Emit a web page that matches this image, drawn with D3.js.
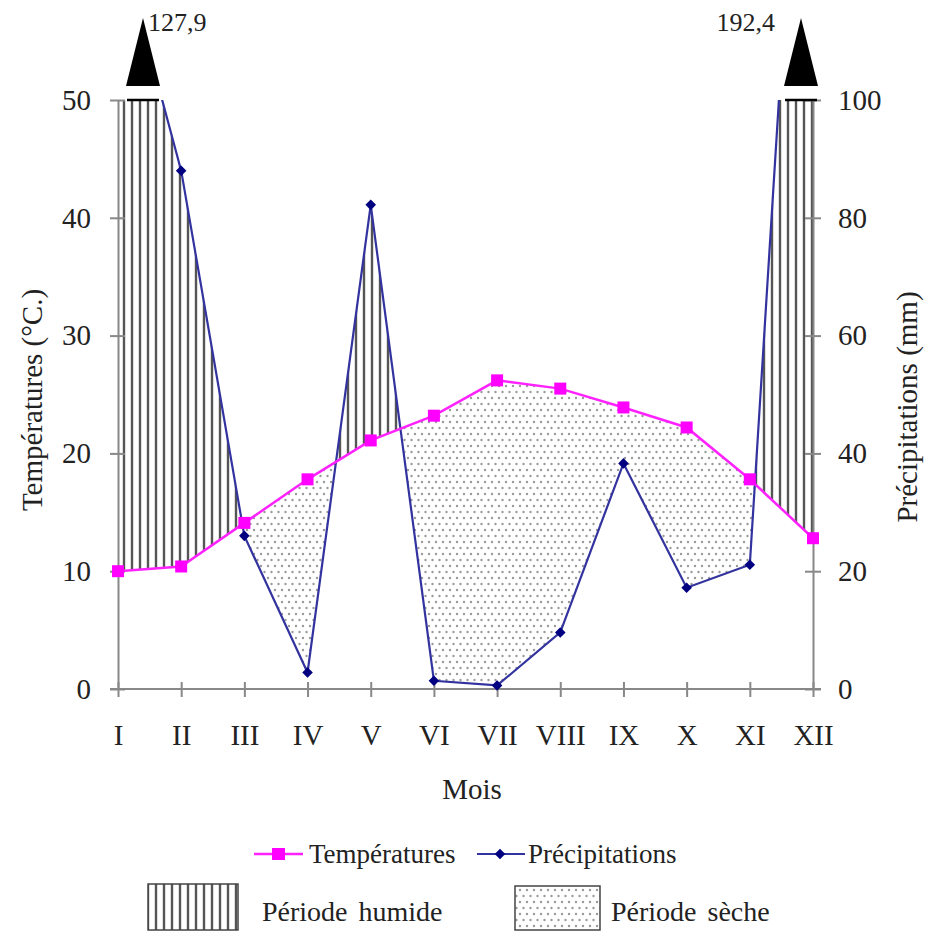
<!DOCTYPE html>
<html>
<head>
<meta charset="utf-8">
<script src="https://cdn.jsdelivr.net/npm/d3@7"></script>
<style>
  body { margin: 0; background: #fff; }
</style>
</head>
<body>
<svg width="927" height="933"></svg>
<script>
// month labels and the two series
const months = ['I', 'II', 'III', 'IV', 'V', 'VI', 'VII', 'VIII', 'IX', 'X', 'XI', 'XII'];
const temperatures = [10.0, 10.4, 14.1, 17.8, 21.1, 23.2, 26.2, 25.5, 23.9, 22.2, 17.8, 12.8];
const precipitations = [127.9, 88.0, 26.0, 2.8, 82.2, 1.4, 0.6, 9.6, 38.3, 17.2, 21.1, 192.4];
const tempTicks = [0, 10, 20, 30, 40, 50];
const precipTicks = [0, 20, 40, 60, 80, 100];

const data = months.map((m, i) => ({month: m, t: temperatures[i], p: precipitations[i]}));

const FONT = '"Liberation Serif", "Times New Roman", serif';
const svg = d3.select('svg')
    .style('font-family', FONT);
const plotLeft = 118, plotRight = 813, plotTop = 100, plotBottom = 689;

const x = d3.scalePoint().domain(months).range([plotLeft, plotRight]);
const yT = d3.scaleLinear().domain([0, 50]).range([plotBottom, plotTop]);
const yP = d3.scaleLinear().domain([0, 100]).range([plotBottom, plotTop]);

const defs = svg.append('defs');

// vertical hatching (humid period)
const hatch = defs.append('pattern')
    .attr('id', 'hatch')
    .attr('patternUnits', 'userSpaceOnUse')
    .attr('width', 8).attr('height', 8);
hatch.append('line')
    .attr('x1', 4).attr('x2', 4).attr('y1', 0).attr('y2', 8)
    .style('stroke', '#555').style('stroke-width', 2.4);

// dots (dry period)
const dots = defs.append('pattern')
    .attr('id', 'dots')
    .attr('patternUnits', 'userSpaceOnUse')
    .attr('width', 7).attr('height', 12);
dots.append('circle').attr('cx', 2).attr('cy', 2).attr('r', 1.2).style('fill', '#999');
dots.append('circle').attr('cx', 5.5).attr('cy', 8).attr('r', 1.2).style('fill', '#999');

defs.append('clipPath').attr('id', 'plotClip')
    .append('rect')
    .attr('x', plotLeft).attr('y', plotTop)
    .attr('width', plotRight - plotLeft).attr('height', plotBottom - plotTop);

// area under the precipitation curve / above it
defs.append('clipPath').attr('id', 'underPrecip')
    .append('path')
    .attr('d', d3.area()
        .x((d) => x(d.month))
        .y0(plotBottom)
        .y1((d) => yP(d.p))(data));
defs.append('clipPath').attr('id', 'abovePrecip')
    .append('path')
    .attr('d', d3.area()
        .x((d) => x(d.month))
        .y0(-2000)
        .y1((d) => yP(d.p))(data));

const plot = svg.append('g').attr('clip-path', 'url(#plotClip)');

// humid: above temperature, below precipitation
plot.append('path')
    .attr('clip-path', 'url(#underPrecip)')
    .attr('d', d3.area()
        .x((d) => x(d.month))
        .y0(plotTop)
        .y1((d) => yT(d.t))(data))
    .style('fill', 'url(#hatch)');

// dry: below temperature, above precipitation
plot.append('path')
    .attr('clip-path', 'url(#abovePrecip)')
    .attr('d', d3.area()
        .x((d) => x(d.month))
        .y0(plotBottom)
        .y1((d) => yT(d.t))(data))
    .style('fill', 'url(#dots)');

// axes
function styleAxis(g) {
  g.attr('font-family', FONT);
  g.select('.domain').style('stroke', '#888').style('stroke-width', 2);
  g.selectAll('.tick line').style('stroke', '#888').style('stroke-width', 2);
  g.selectAll('.tick text')
      .style('font-family', FONT)
      .style('font-size', '29px')
      .style('fill', '#222');
}

svg.append('g')
    .attr('transform', `translate(0,${plotBottom})`)
    .call(d3.axisBottom(x).tickSizeOuter(0).tickSize(0).tickPadding(35))
    .call(styleAxis)
    .call((g) => g.select('.domain').attr('d', `M${plotLeft - 8},0H${plotRight + 8}`))
    .call((g) => g.selectAll('.tick line').attr('y1', -7).attr('y2', 8));

svg.append('g')
    .attr('transform', `translate(${plotLeft},0)`)
    .call(d3.axisLeft(yT).tickValues(tempTicks).tickSizeOuter(0).tickSize(0).tickPadding(27))
    .call(styleAxis)
    .call((g) => g.selectAll('.tick line').attr('x1', -8).attr('x2', 7));

svg.append('g')
    .attr('transform', `translate(${plotRight},0)`)
    .call(d3.axisRight(yP).tickValues(precipTicks).tickSizeOuter(0).tickSize(0).tickPadding(25))
    .call(styleAxis)
    .call((g) => g.selectAll('.tick line').attr('x1', -8).attr('x2', 8));

// series lines
const lineT = d3.line().x((d) => x(d.month)).y((d) => yT(d.t));
const lineP = d3.line().x((d) => x(d.month)).y((d) => yP(d.p));

plot.append('path')
    .attr('d', lineP(data))
    .style('fill', 'none').style('stroke', '#33339f').style('stroke-width', 2.2);

svg.append('path')
    .attr('d', lineT(data))
    .style('fill', 'none').style('stroke', '#ff22ff').style('stroke-width', 2.5);

svg.selectAll('rect.tmark')
    .data(data).enter()
    .append('rect')
    .attr('class', 'tmark')
    .attr('x', (d) => x(d.month) - 6)
    .attr('y', (d) => yT(d.t) - 6)
    .attr('width', 12).attr('height', 12)
    .style('fill', '#ff00ff');

// square rotated 45 degrees = the reference's diamond marker
const diamond = d3.symbol().type(d3.symbolSquare).size(56);
svg.selectAll('path.pmark')
    .data(data.filter((d) => d.p <= 100)).enter()
    .append('path')
    .attr('class', 'pmark')
    .attr('transform', (d) => `translate(${x(d.month)},${yP(d.p)}) rotate(45)`)
    .attr('d', diamond)
    .style('fill', '#000080');

function addText(sel, size) {
  return sel.append('text')
      .style('font-family', FONT)
      .style('font-size', size + 'px')
      .style('fill', '#222');
}

// off-scale precipitation markers
const offScale = data.filter((d) => d.p > 100);
const arrowG = svg.selectAll('g.off')
    .data(offScale).enter()
    .append('g')
    .attr('class', 'off')
    .attr('transform', (d) => `translate(${x(d.month) + (d.month === 'I' ? 25 : -12)},0)`);
arrowG.append('path')
    .attr('d', 'M0,18L17,86H-17Z')
    .style('fill', '#000');
arrowG.append('line')
    .attr('x1', -16).attr('x2', 16)
    .attr('y1', plotTop).attr('y2', plotTop)
    .style('stroke', '#000').style('stroke-width', 2.5);
addText(arrowG, 26)
    .attr('x', (d) => d.month === 'I' ? 5 : -26)
    .attr('y', 31)
    .attr('text-anchor', (d) => d.month === 'I' ? 'start' : 'end')
    .text((d) => String(d.p).replace('.', ','));

// axis titles
addText(svg, 29)
    .attr('transform', 'translate(42,400) rotate(-90)')
    .attr('text-anchor', 'middle')
    .text('Températures (°C.)');

addText(svg, 29)
    .attr('transform', 'translate(917,407) rotate(-90)')
    .attr('text-anchor', 'middle')
    .text('Précipitations (mm)');

addText(svg, 29)
    .attr('x', 472).attr('y', 799)
    .attr('text-anchor', 'middle')
    .text('Mois');

// legend
const legend = svg.append('g');
legend.append('line')
    .attr('x1', 254).attr('x2', 303).attr('y1', 854).attr('y2', 854)
    .style('stroke', '#ff22ff').style('stroke-width', 2.5);
legend.append('rect')
    .attr('x', 272).attr('y', 848).attr('width', 13).attr('height', 12)
    .style('fill', '#ff00ff');
addText(legend, 27)
    .attr('x', 309).attr('y', 863)
    .text('Températures');

legend.append('line')
    .attr('x1', 477).attr('x2', 525).attr('y1', 854).attr('y2', 854)
    .style('stroke', '#33339f').style('stroke-width', 2.2);
legend.append('path')
    .attr('transform', 'translate(500,854) rotate(45)')
    .attr('d', diamond)
    .style('fill', '#000080');
addText(legend, 27)
    .attr('x', 528).attr('y', 863)
    .text('Précipitations');

legend.append('rect')
    .attr('x', 148).attr('y', 884).attr('width', 90).attr('height', 46)
    .style('fill', 'url(#hatch)').style('stroke', '#444').style('stroke-width', 1.5);
addText(legend, 28)
    .attr('x', 262).attr('y', 921)
    .style('word-spacing', '4px')
    .text('Période humide');

legend.append('rect')
    .attr('x', 515).attr('y', 886).attr('width', 85).attr('height', 44)
    .style('fill', 'url(#dots)').style('stroke', '#444').style('stroke-width', 1.5);
addText(legend, 28)
    .attr('x', 611).attr('y', 921)
    .style('word-spacing', '4px')
    .text('Période sèche');
</script>
</body>
</html>
